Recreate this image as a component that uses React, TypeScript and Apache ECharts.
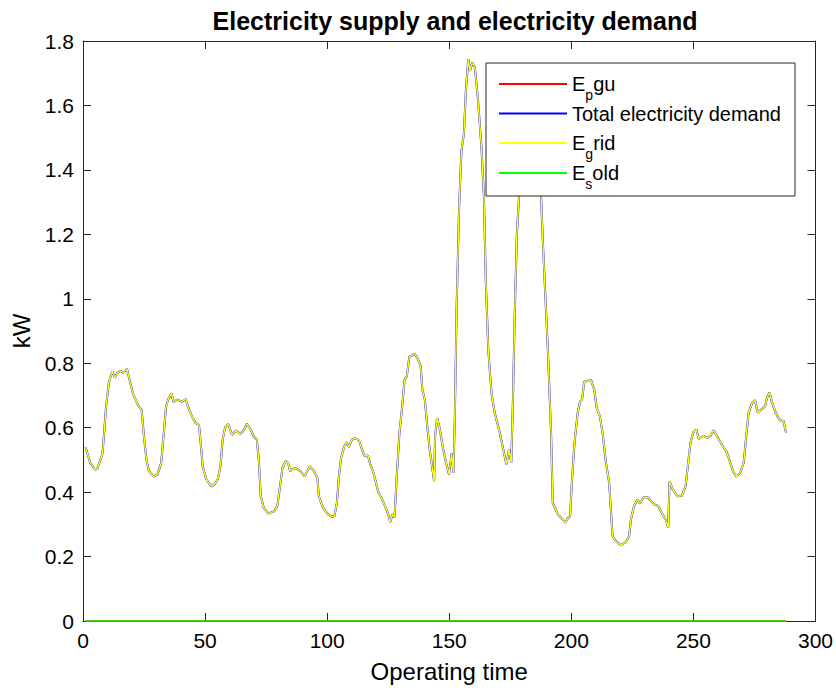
import React, { useEffect, useRef } from "react";
import * as echarts from "echarts";

// Operating time steps (5-minute slots) and grid import in kW
const timeSteps = [
  1, 3, 5, 6, 8, 9.5, 10.6, 12, 13, 14,
  15.5, 16.5, 18, 19, 20.5, 22.5, 24, 25, 26, 27,
  29, 30.5, 32, 33, 34, 35, 36.3, 37, 38.7, 40.5,
  42, 43, 44.6, 46, 47.5, 48.2, 49,
  50.5, 52.5, 54, 55.2, 56.3, 57.2, 58.2, 59.5, 61, 62.7,
  64.4, 65.8, 67.1, 68.8, 70, 71.2, 72, 72.8, 74, 76,
  78.3, 79.6, 80.7, 81.7, 83, 84, 84.8, 85.3, 87, 89,
  90.8, 91.8, 93, 94.6, 96, 96.6, 98, 99, 100.5, 102,
  103, 104, 104.8, 105.7, 107, 108, 108.8, 110.2, 111.6, 113,
  114.3, 115.2, 116.7, 117.7, 119, 120, 121, 122.4, 123.8, 125,
  125.8, 126.8, 127.6, 128.5, 129.6, 130.6, 131.7, 132.6, 133.7, 134.7,
  135.8, 137, 138.3, 139, 140, 141, 142, 143.8, 144.2, 145,
  146, 147.3, 148.7, 149.9, 151, 151.7, 152.3, 153, 154, 155,
  156, 156.8, 157.8, 158.5, 159.4, 160.5, 161.8, 163.2, 164.2, 165,
  166, 167.3, 168.6, 170.7, 172.4, 173.4, 174.5, 175.4, 176.1, 176.8,
  177.7, 178.6, 180, 181.5, 183.5, 185.5, 187, 187.6, 188.5, 190.4,
  191.7, 192.4, 194.5, 196.5, 197.5, 198.5, 199.5, 200.3, 201.3, 202.6,
  203.6, 204.4, 205.3, 206.7, 208, 209.4, 210.4, 211.7, 212.8, 214.2,
  215.5, 216.2, 216.9, 218.2, 220.3, 222.3, 223.7, 224.4, 225.7, 227.1,
  228.1, 229.5, 231.1, 232.5, 233.9, 235.6, 237, 238.6, 239.7, 240.2,
  241.6, 243.4, 245.3, 246.8, 247.7, 248.8, 249.9, 251.2, 252.2, 254,
  255.6, 257, 258.3, 259.7, 261.7, 263.5, 264.9, 266.2, 267.6, 269.2,
  270.6, 271.5, 272.6, 274, 275.3, 276.3, 278, 279.4, 280.1, 281.2,
  282.1, 283.5, 284.8, 286.2, 286.9, 287.6, 288,
];

const gridKW = [
  0.54, 0.49, 0.47, 0.475, 0.52, 0.67, 0.74, 0.775, 0.755, 0.77,
  0.776, 0.77, 0.782, 0.75, 0.705, 0.67, 0.655, 0.57, 0.5, 0.465,
  0.448, 0.455, 0.49, 0.575, 0.665, 0.69, 0.707, 0.68, 0.687, 0.68,
  0.69, 0.665, 0.635, 0.615, 0.609, 0.553, 0.48,
  0.44, 0.418, 0.425, 0.44, 0.48, 0.563, 0.6, 0.612, 0.578, 0.591,
  0.581, 0.592, 0.612, 0.592, 0.571, 0.563, 0.5, 0.388, 0.352, 0.333,
  0.341, 0.357, 0.418, 0.475, 0.496, 0.491, 0.465, 0.47, 0.475, 0.465,
  0.449, 0.465, 0.48, 0.465, 0.444, 0.388, 0.357, 0.344, 0.33, 0.323,
  0.326, 0.367, 0.449, 0.506, 0.542, 0.555, 0.54, 0.563, 0.568, 0.561,
  0.532, 0.513, 0.513, 0.486, 0.46, 0.429, 0.398, 0.38, 0.355, 0.331,
  0.307, 0.331, 0.321, 0.449, 0.584, 0.656, 0.749, 0.759, 0.821, 0.823,
  0.829, 0.816, 0.79, 0.718, 0.687, 0.604, 0.532, 0.434, 0.573, 0.63,
  0.602, 0.542, 0.491, 0.455, 0.52, 0.46, 0.635, 0.965, 1.274, 1.46,
  1.512, 1.645, 1.744, 1.707, 1.733, 1.718, 1.615, 1.47, 1.318, 1.048,
  0.841, 0.707, 0.646, 0.584, 0.522, 0.486, 0.532, 0.491, 0.687, 0.944,
  1.202, 1.318, 1.47, 1.58, 1.62, 1.55, 1.38, 1.32, 1.15, 0.841,
  0.584, 0.367, 0.331, 0.315, 0.305, 0.318, 0.326, 0.44, 0.553, 0.646,
  0.681, 0.687, 0.743, 0.745, 0.749, 0.718, 0.661, 0.635, 0.584, 0.491,
  0.429, 0.346, 0.264, 0.248, 0.235, 0.245, 0.264, 0.315, 0.357, 0.377,
  0.365, 0.383, 0.385, 0.374, 0.362, 0.357, 0.336, 0.315, 0.29, 0.434,
  0.408, 0.387, 0.389, 0.418, 0.48, 0.553, 0.585, 0.594, 0.565, 0.575,
  0.568, 0.575, 0.592, 0.573, 0.547, 0.527, 0.496, 0.465, 0.448, 0.46,
  0.491, 0.563, 0.646, 0.676, 0.685, 0.646, 0.658, 0.666, 0.692, 0.709,
  0.681, 0.65, 0.63, 0.62, 0.622, 0.594, 0.585,
];

// The whole demand is covered by the grid, so both curves coincide
const demandKW = gridKW;

// Gas unit output and sold electricity stay at zero all day
const flatTimes = [1, 288];
const pguKW = [0, 0];
const soldKW = [0, 0];

const xTicks = { min: 0, max: 300, interval: 50 };
const yTicks = { min: 0, max: 1.8, interval: 0.2 };

const seriesNames = ["Epgu", "Total electricity demand", "Egrid", "Esold"];
const legendLabels: Record<string, string> = {
  Epgu: "{n|E}{s|p}{n|gu}",
  "Total electricity demand": "{n|Total electricity demand}",
  Egrid: "{n|E}{s|g}{n|rid}",
  Esold: "{n|E}{s|s}{n|old}",
};

const FONT = "'Liberation Sans', Arial, Helvetica, sans-serif";
const AXIS_COLOR = "#262626";

// Legend frame and the vertical centre of each of its rows, in pixels
const LEGEND_BOX = { x: 486, y: 63, width: 309, height: 133 };
const LEGEND_ROW_CENTERS = [84, 113.5, 143, 173];
// distance from a legend's top to its icon line (rows with a subscript are taller)
const SUB_DROP = 21;
const LEGEND_ROW_OFFSETS = [12 + (14 + SUB_DROP - 24) / 2, 12, 12 + (14 + SUB_DROP - 24) / 2, 12 + (14 + SUB_DROP - 24) / 2];

const pairs = (xs: number[], ys: number[]) => xs.map((x, i) => [x, ys[i]]);

export default function App() {
  const ref = useRef<HTMLDivElement>(null);

  useEffect(() => {
    if (!ref.current) return;
    const chart = echarts.init(ref.current, null, { renderer: "svg" });

    const frameAxis = {
      type: "value" as const,
      axisLine: { show: true, onZero: false, lineStyle: { color: AXIS_COLOR, width: 1 } },
      axisTick: { show: true, inside: true, length: 8, lineStyle: { color: AXIS_COLOR, width: 1 } },
      splitLine: { show: false },
    };

    const line = (name: string, data: number[][], color: string, width: number, clip: boolean) => ({
      name,
      type: "line" as const,
      z: 2,
      data,
      showSymbol: false,
      symbol: "none",
      clip,
      itemStyle: { color },
      lineStyle: { color, width },
      emphasis: { disabled: true },
    });

    // One single-row legend per series so every row sits at a fixed height
    const legends = seriesNames.map((name, i) => ({
      orient: "vertical",
      left: LEGEND_BOX.x + 13,
      top: LEGEND_ROW_CENTERS[i] - LEGEND_ROW_OFFSETS[i],
      padding: 0,
      itemWidth: 68,
      itemHeight: 2,
      icon: "rect",
      selectedMode: false,
      z: 5,
      data: [name],
      formatter: (n: string) => legendLabels[n] ?? n,
      textStyle: {
        fontFamily: FONT,
        fontSize: 20,
        lineHeight: 24,
        color: "#000",
        rich: {
          n: { fontFamily: FONT, fontSize: 20, lineHeight: 24, color: "#000" },
          s: { fontFamily: FONT, fontSize: 14, lineHeight: 24, color: "#000", padding: [SUB_DROP, 0, 0, 0] },
        },
      },
    }));

    chart.setOption({
      animation: false,
      backgroundColor: "#ffffff",
      title: {
        text: "Electricity supply and electricity demand",
        left: 450,
        top: 3,
        textAlign: "center",
        textStyle: { fontFamily: FONT, fontSize: 25, fontWeight: "bold", color: "#000" },
      },
      grid: { left: 83, top: 41, width: 733, height: 580 },
      graphic: [
        {
          type: "rect",
          z: 4,
          shape: { ...LEGEND_BOX },
          style: { fill: "#ffffff", stroke: AXIS_COLOR, lineWidth: 1 },
          silent: true,
        },
      ],
      legend: legends,
      xAxis: [
        {
          ...frameAxis,
          ...xTicks,
          position: "bottom",
          name: "Operating time",
          nameLocation: "middle",
          nameGap: 38,
          nameTextStyle: { fontFamily: FONT, fontSize: 24, color: "#000" },
          axisLabel: { fontFamily: FONT, fontSize: 21, color: "#000", margin: 9 },
        },
        {
          ...frameAxis,
          ...xTicks,
          position: "top",
          axisLabel: { show: false },
        },
      ],
      yAxis: [
        {
          ...frameAxis,
          ...yTicks,
          position: "left",
          name: "kW",
          nameLocation: "middle",
          nameGap: 50,
          nameTextStyle: { fontFamily: FONT, fontSize: 24, color: "#000" },
          axisLabel: { fontFamily: FONT, fontSize: 21, color: "#000", margin: 9 },
        },
        {
          ...frameAxis,
          ...yTicks,
          position: "right",
          axisLabel: { show: false },
        },
      ],
      series: [
        line(seriesNames[0], pairs(flatTimes, pguKW), "#ff0000", 1.5, false),
        line(seriesNames[1], pairs(timeSteps, demandKW), "#0000ff", 2, true),
        line(seriesNames[2], pairs(timeSteps, gridKW), "#ffff00", 1.5, true),
        line(seriesNames[3], pairs(flatTimes, soldKW), "#00ff00", 1.5, false),
      ],
    });

    return () => chart.dispose();
  }, []);

  return (
    <div
      ref={ref}
      style={{ position: "absolute", left: 0, top: 0, width: 836, height: 691, background: "#fff" }}
    />
  );
}
